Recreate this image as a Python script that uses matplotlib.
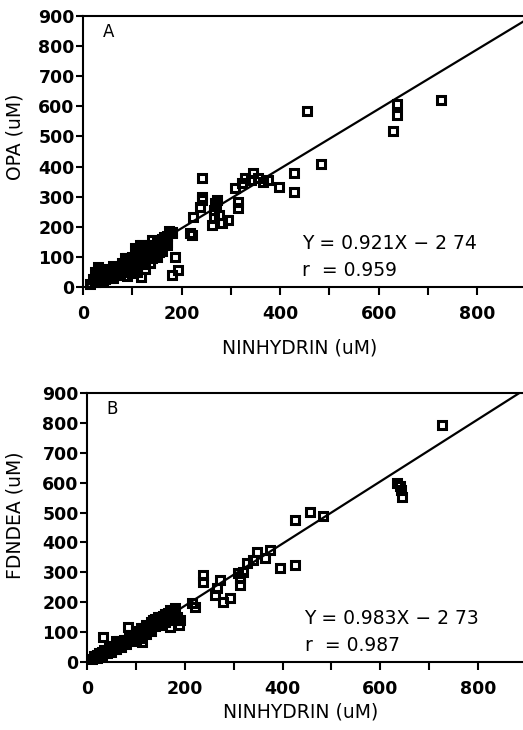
import numpy as np
import matplotlib.pyplot as plt

# ---- panel A: OPA vs ninhydrin (uM)
opa_x = [15, 20, 25, 30, 30, 35, 40, 40, 45, 50, 50, 55, 60, 60, 65, 70, 75, 75,
         80, 85, 85, 90, 90, 95, 100, 100, 105, 110, 110, 115, 115, 120, 120,
         125, 125, 130, 130, 135, 140, 140, 145, 150, 150, 155, 160, 160, 165,
         170, 175, 180, 35, 45, 65, 95, 105, 125, 140, 155, 117, 180,
         25, 55, 70, 80, 90, 100, 108, 118, 128, 135, 145, 150, 165, 170, 160,
         90, 100, 110, 125, 135, 150, 160, 170, 105, 120, 140,
         187, 192, 181, 218, 222, 224, 238, 241, 241, 241,
         262, 265, 265, 268, 270, 272, 276, 282, 295,
         309, 315, 315, 322, 329, 340, 346, 356, 365, 376, 397, 429, 429,
         455, 484, 630, 637, 637, 726]
opa_y = [10, 25, 15, 40, 65, 55, 30, 20, 50, 35, 60, 45, 30, 70, 55, 45, 65, 40,
         80, 60, 95, 75, 50, 85, 65, 100, 80, 60, 120, 95, 140, 110, 75,
         130, 90, 100, 120, 140, 115, 100, 130, 150, 125, 140, 160, 135, 150,
         170, 185, 180, 35, 25, 40, 50, 70, 85, 95, 115, 34, 184,
         50, 30, 60, 55, 95, 80, 110, 125, 110, 120, 110, 135, 165, 150, 145,
         35, 45, 50, 60, 80, 100, 120, 140, 130, 140, 155,
         101, 56, 40, 180, 172, 234, 266, 300, 361, 290,
         205, 230, 255, 280, 270, 290, 240, 211, 223,
         328, 283, 261, 344, 361, 355, 378, 361, 350, 355, 333, 378, 317,
         585, 410, 518, 570, 607, 621]

# ---- panel B: FDNDEA vs ninhydrin (uM)
fdn_x = [10, 15, 20, 25, 30, 35, 40, 45, 50, 55, 60, 60, 65, 70, 75, 80, 85,
         90, 95, 100, 100, 105, 110, 110, 115, 120, 120, 125, 130, 130, 135,
         140, 140, 145, 150, 150, 155, 160, 160, 165, 170, 170, 175, 180, 180,
         185, 188, 112, 33, 84, 190, 170,
         20, 30, 45, 55, 65, 80, 90, 105, 115, 125, 135, 145, 155, 165, 175,
         214, 221, 238, 238, 262, 265, 272, 279, 292, 309, 313, 313, 320,
         327, 340, 347, 364, 374, 395, 425, 425, 456, 483,
         635, 640, 643, 645, 727]
fdn_y = [10, 20, 15, 30, 20, 40, 30, 50, 35, 55, 45, 70, 60, 50, 75, 60, 90,
         70, 85, 100, 75, 90, 115, 80, 100, 125, 95, 110, 135, 105, 125,
         145, 120, 135, 150, 125, 140, 160, 135, 150, 175, 145, 160, 180, 140,
         150, 125, 68, 85, 118, 140, 118,
         25, 35, 40, 45, 70, 75, 85, 105, 115, 120, 140, 150, 155, 165, 170,
         198, 185, 291, 269, 224, 246, 274, 202, 213, 297, 258, 280, 302,
         330, 341, 369, 347, 375, 313, 324, 475, 503, 489,
         598, 590, 575, 553, 793]

# regression lines as drawn on the figure
fit_a = (0.99, -3.0)
fit_b = (1.04, -20.0)
eq_a = ['Y = 0.921X \u2212 2 74', 'r  = 0.959']
eq_b = ['Y = 0.983X \u2212 2 73', 'r  = 0.987']

fig = plt.figure(figsize=(5.23, 7.30), dpi=100)
ax1 = fig.add_axes([83/523, 443/730, 440/523, 271/730])
ax2 = fig.add_axes([87/523, 68/730, 436/523, 269/730])

panels = [(ax1, opa_x, opa_y, fit_a, eq_a, 'A', 'OPA (uM)', 893),
          (ax2, fdn_x, fdn_y, fit_b, eq_b, 'B', 'FDNDEA (uM)', 892)]

for ax, xs, ys, fit, eq, tag, ylab, xmax in panels:
    ax.plot(xs, ys, 's', mfc='none', mec='black', ms=5.5, mew=2.2, clip_on=False)
    lx = np.array([10, 900])
    ax.plot(lx, fit[0]*lx + fit[1], '-', color='black', lw=1.6)
    ax.set_xlim(0, xmax)
    ax.set_ylim(0, 900)
    ax.set_xticks(np.arange(0, 900, 200))
    ax.set_xticks(np.arange(100, 900, 200), minor=True)
    ax.set_yticks(np.arange(0, 901, 100))
    ax.tick_params(axis='x', which='both', direction='out', length=6, width=1.5, pad=7)
    ax.tick_params(axis='y', direction='out', length=5, width=1.5, pad=1)
    for lab in ax.get_xticklabels() + ax.get_yticklabels():
        lab.set_fontweight('bold')
        lab.set_fontsize(12.5)
    for s in ['left', 'top', 'bottom']:
        ax.spines[s].set_linewidth(1.5)
    ax.spines['right'].set_visible(False)
    ax.text(0.045, 0.94, tag, transform=ax.transAxes, fontsize=12, va='center')
    ax.text(445, 146, eq[0], fontsize=13.5, va='center')
    ax.text(445, 56, eq[1], fontsize=13.5, va='center')
    ax.set_ylabel(ylab, fontsize=13.5)

ax1.set_xlabel('NINHYDRIN (uM)', fontsize=13.5)
ax2.set_xlabel('NINHYDRIN (uM)', fontsize=13.5)
ax1.yaxis.set_label_coords(-0.155, 0.553)
ax2.yaxis.set_label_coords(-0.165, 0.546)
ax1.xaxis.set_label_coords(0.493, -0.225)
ax2.xaxis.set_label_coords(0.489, -0.186)
for ax in (ax1, ax2):
    ax.yaxis.label.set_va('center')
    ax.xaxis.label.set_va('center')

fig.savefig('out.png', dpi=100)
